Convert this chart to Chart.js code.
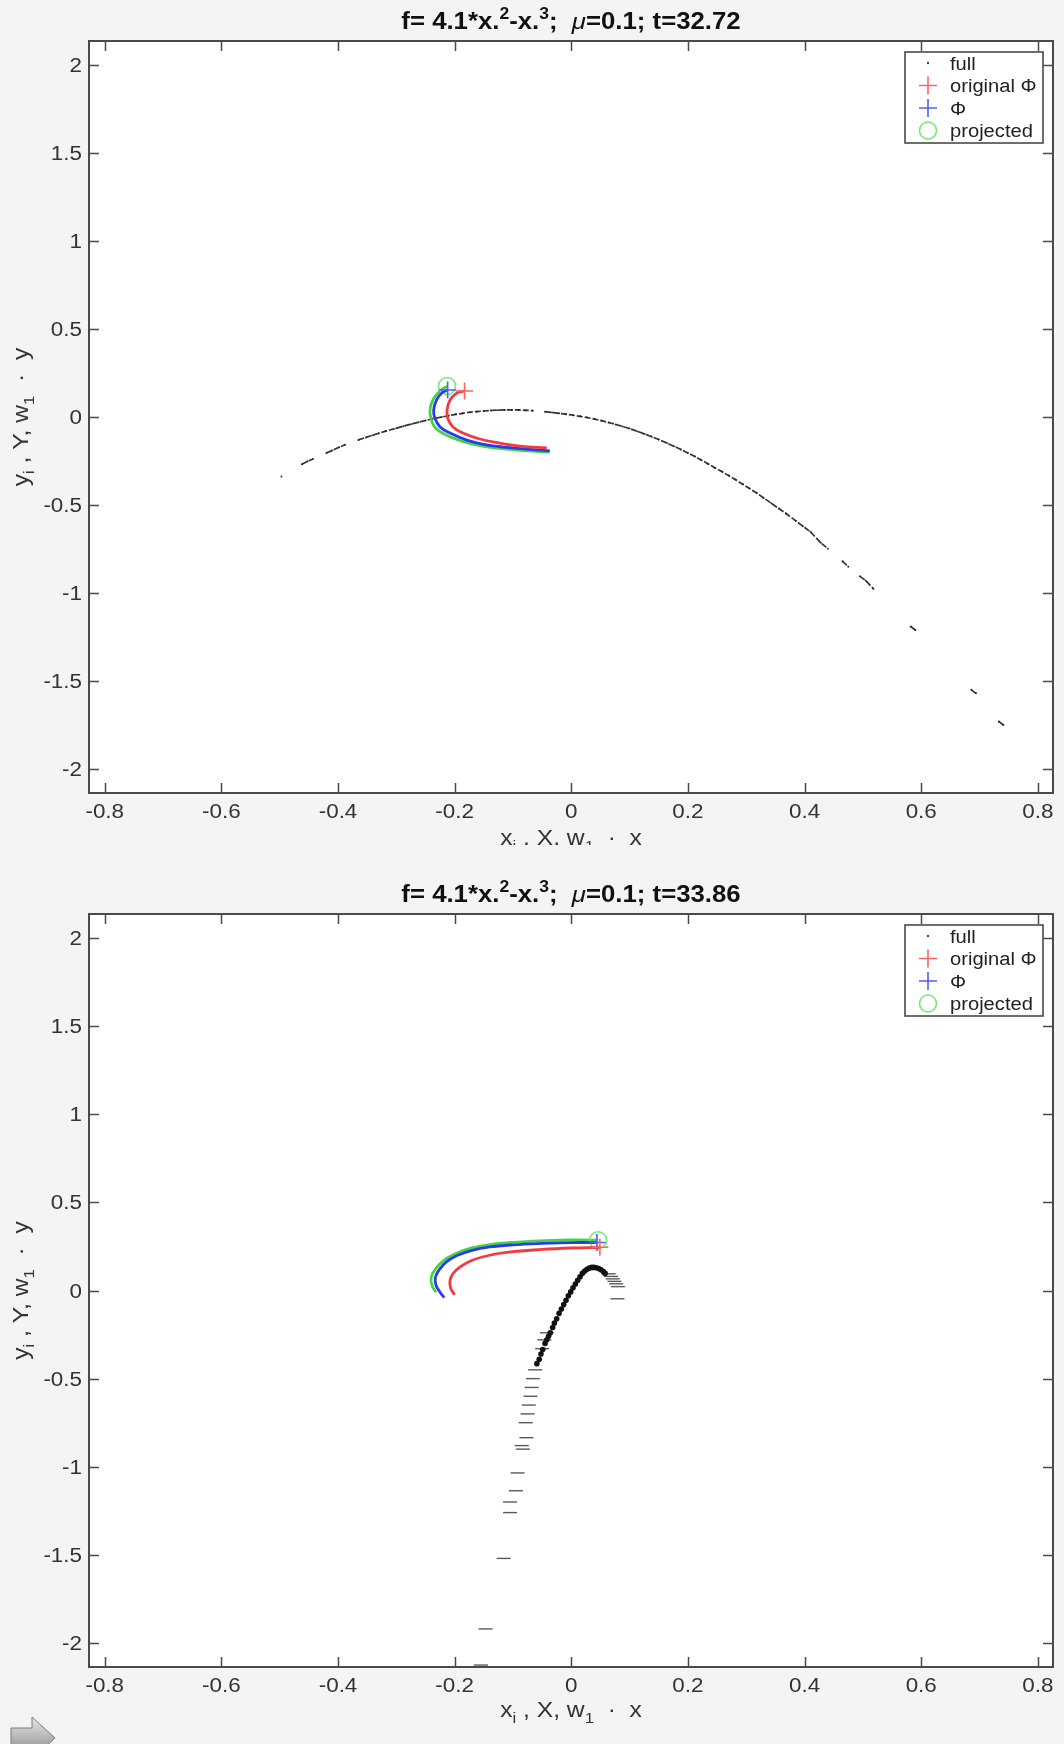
<!DOCTYPE html>
<html lang="en">
<head>
<meta charset="UTF-8">
<title>f = 4.1*x.^2 - x.^3</title>
<script src="https://cdn.jsdelivr.net/npm/chart.js"></script>
<style>
    body { margin: 0; background: #f4f4f4; }
    canvas { display: block; }
</style>
</head>
<body>
<canvas id="chartTop" width="1064" height="845"></canvas>
<canvas id="chartBottom" width="1064" height="899"></canvas>
<script>
// axes
const xTicks = [-0.8, -0.6, -0.4, -0.2, 0, 0.2, 0.4, 0.6, 0.8];
const yTicks = [-2, -1.5, -1, -0.5, 0, 0.5, 1, 1.5, 2];
const legendNames = ['full', 'original Φ', 'Φ', 'projected'];
const times = ['32.72', '33.86'];

// t = 32.72
const fullX1 = [-0.497,-0.462,-0.452,-0.443,-0.420,-0.410,-0.398,-0.388,-0.365,-0.352,-0.340,-0.330,-0.318,-0.300,-0.288,-0.275,-0.262,-0.250,-0.238,-0.222,-0.210,-0.198,-0.186,-0.174,-0.162,-0.150,-0.138,-0.126,-0.114,-0.102,-0.090,-0.078,-0.066,-0.045,-0.033,-0.021,-0.009,0.003,0.015,0.027,0.040,0.052,0.064,0.076,0.088,0.100,0.114,0.126,0.138,0.150,0.164,0.176,0.188,0.200,0.212,0.222,0.234,0.246,0.258,0.270,0.282,0.294,0.305,0.318,0.330,0.343,0.356,0.368,0.385,0.397,0.410,0.428,0.440,0.465,0.475,0.495,0.505,0.518,0.582,0.590,0.686,0.694,0.733,0.741];
const fullY1 = [-0.338,-0.268,-0.252,-0.238,-0.205,-0.190,-0.172,-0.158,-0.130,-0.116,-0.103,-0.092,-0.080,-0.064,-0.052,-0.041,-0.030,-0.020,-0.010,0.000,0.008,0.015,0.021,0.027,0.031,0.034,0.037,0.039,0.040,0.040,0.040,0.038,0.036,0.030,0.026,0.021,0.016,0.010,0.004,-0.003,-0.012,-0.021,-0.031,-0.042,-0.054,-0.066,-0.082,-0.097,-0.112,-0.128,-0.148,-0.166,-0.185,-0.204,-0.225,-0.243,-0.265,-0.288,-0.310,-0.333,-0.357,-0.382,-0.405,-0.432,-0.460,-0.490,-0.520,-0.548,-0.590,-0.620,-0.652,-0.715,-0.748,-0.820,-0.850,-0.905,-0.930,-0.975,-1.190,-1.210,-1.550,-1.570,-1.730,-1.750];
const origX1 = [-0.183,-0.196,-0.208,-0.213,-0.212,-0.203,-0.186,-0.157,-0.123,-0.088,-0.042];
const origY1 = [0.148,0.136,0.097,0.040,-0.006,-0.057,-0.091,-0.125,-0.148,-0.165,-0.176];
const phiX1 = [-0.212,-0.222,-0.231,-0.236,-0.234,-0.225,-0.208,-0.179,-0.145,-0.100,-0.037];
const phiY1 = [0.153,0.136,0.097,0.040,-0.006,-0.057,-0.091,-0.131,-0.159,-0.176,-0.193];
const projX1 = [-0.213,-0.226,-0.236,-0.242,-0.241,-0.234,-0.218,-0.188,-0.152,-0.106,-0.037];
const projY1 = [0.176,0.145,0.105,0.050,-0.003,-0.058,-0.097,-0.137,-0.165,-0.184,-0.200];

// t = 33.86
const arcX2 = [-0.059,-0.055,-0.052,-0.049,-0.045,-0.042,-0.039,-0.036,-0.032,-0.029,-0.025,-0.021,-0.017,-0.013,-0.009,-0.005,-0.001,0.003,0.007,0.011,0.015,0.019,0.023,0.027,0.031,0.035,0.039,0.043,0.047,0.051,0.055,0.058];
const arcY2 = [-0.415,-0.390,-0.360,-0.335,-0.300,-0.280,-0.260,-0.240,-0.210,-0.185,-0.160,-0.130,-0.105,-0.080,-0.055,-0.030,-0.008,0.015,0.037,0.058,0.078,0.097,0.110,0.120,0.127,0.131,0.131,0.129,0.125,0.118,0.108,0.097];
const streakX2 = [0.064,0.068,0.071,0.074,0.077,0.080,0.079,-0.050,-0.046,-0.042,-0.062,-0.066,-0.068,-0.070,-0.073,-0.075,-0.078,-0.077,-0.085,-0.083,-0.092,-0.095,-0.105,-0.105,-0.116,-0.147,-0.155];
const streakY2 = [0.095,0.080,0.066,0.052,0.038,0.022,-0.047,-0.330,-0.280,-0.240,-0.450,-0.500,-0.550,-0.600,-0.650,-0.700,-0.750,-0.835,-0.880,-0.900,-1.035,-1.136,-1.200,-1.260,-1.520,-1.920,-2.125];
const origX2 = [0.049,0.000,-0.050,-0.100,-0.140,-0.170,-0.190,-0.203,-0.208,-0.207,-0.200];
const origY2 = [0.245,0.241,0.233,0.220,0.200,0.172,0.135,0.095,0.055,0.015,-0.025];
const phiX2 = [0.044,0.000,-0.050,-0.100,-0.140,-0.170,-0.195,-0.213,-0.226,-0.233,-0.232,-0.225,-0.218];
const phiY2 = [0.272,0.272,0.267,0.259,0.247,0.228,0.200,0.165,0.120,0.075,0.030,-0.010,-0.040];
const projX2 = [0.046,0.000,-0.050,-0.100,-0.140,-0.172,-0.198,-0.218,-0.232,-0.240,-0.239,-0.232];
const projY2 = [0.285,0.287,0.282,0.273,0.260,0.240,0.210,0.172,0.125,0.078,0.030,-0.010];

const SX = 1.12;   // source text is a bit wide
const FONT = '"Liberation Sans", Arial, sans-serif';
const RED = 'rgb(240,60,60)', BLUE = 'rgb(40,60,235)', GREEN = 'rgb(70,210,70)';
const RED_M = 'rgb(248,100,100)', BLUE_M = 'rgb(80,95,245)', GREEN_M = 'rgb(120,232,120)';
const TRACE = 'rgba(30,30,30,0.9)';

function pts(xs, ys) {
    return xs.map((x, i) => ({ x: x, y: ys[i] }));
}

function curve(xs, ys, color, mColor, mStyle, order) {
    return {
        data: pts(xs, ys),
        showLine: true,
        tension: 0.4,
        borderColor: color,
        borderWidth: 2.8,
        pointStyle: mStyle,
        pointRadius: c => c.dataIndex === 0 ? 8.5 : 0,
        pointBorderColor: mColor,
        pointBackgroundColor: 'rgba(0,0,0,0)',
        pointBorderWidth: 1.6,
        order: order
    };
}

// rich text: segments with sub/superscripts, stretched horizontally
function segFont(s, size, bold) {
    let px = (s.sub || s.sup) ? size * 0.68 : size;
    return (s.it ? 'italic ' : '') + (bold && !s.it ? 'bold ' : '') + px + 'px ' + FONT;
}
function drawRich(ctx, segs, x, y, size, bold, align) {
    let w = 0;
    segs.forEach(s => { ctx.font = segFont(s, size, bold); w += ctx.measureText(s.t).width; });
    ctx.save();
    ctx.translate(x, y);
    ctx.scale(SX, 1);
    ctx.textAlign = 'left';
    ctx.textBaseline = 'alphabetic';
    let cx = align === 'center' ? -w / 2 : (align === 'right' ? -w : 0);
    segs.forEach(s => {
        ctx.font = segFont(s, size, bold);
        let dy = s.sup ? -size * 0.42 : (s.sub ? size * 0.28 : 0);
        ctx.fillText(s.t, cx, dy);
        cx += ctx.measureText(s.t).width;
    });
    ctx.restore();
}

function drawMarker(ctx, kind, x, y, color) {
    ctx.save();
    ctx.strokeStyle = color;
    ctx.fillStyle = color;
    ctx.lineWidth = 1.6;
    ctx.beginPath();
    if (kind === 'cross') {
        ctx.moveTo(x - 9, y); ctx.lineTo(x + 9, y);
        ctx.moveTo(x, y - 9); ctx.lineTo(x, y + 9);
        ctx.stroke();
    } else if (kind === 'circle') {
        ctx.arc(x, y, 8.5, 0, Math.PI * 2);
        ctx.stroke();
    } else {
        ctx.arc(x, y, 1.2, 0, Math.PI * 2);
        ctx.fill();
    }
    ctx.restore();
}

const matlabPlugin = {
    id: 'matlab',
    beforeDraw(chart) {
        const ctx = chart.ctx, a = chart.chartArea;
        ctx.save();
        ctx.fillStyle = '#f4f4f4';
        ctx.fillRect(0, 0, chart.width, chart.height);
        ctx.fillStyle = '#ffffff';
        ctx.fillRect(a.left, a.top, a.right - a.left, a.bottom - a.top);
        ctx.restore();
    },
    afterDatasetsDraw(chart, args, opts) {
        const ctx = chart.ctx, a = chart.chartArea;
        const xs = chart.scales.x, ys = chart.scales.y;
        ctx.save();
        // box and inward ticks
        ctx.strokeStyle = '#4a4a4a';
        ctx.lineWidth = 2;
        ctx.strokeRect(a.left, a.top, a.right - a.left, a.bottom - a.top);
        ctx.lineWidth = 1.5;
        ctx.beginPath();
        xTicks.forEach(v => {
            const px = Math.round(xs.getPixelForValue(v)) + 0.5;
            ctx.moveTo(px, a.bottom); ctx.lineTo(px, a.bottom - 10);
            ctx.moveTo(px, a.top); ctx.lineTo(px, a.top + 10);
        });
        yTicks.forEach(v => {
            const py = Math.round(ys.getPixelForValue(v)) + 0.5;
            ctx.moveTo(a.left, py); ctx.lineTo(a.left + 10, py);
            ctx.moveTo(a.right, py); ctx.lineTo(a.right - 10, py);
        });
        ctx.stroke();

        // tick labels
        ctx.fillStyle = '#333333';
        xTicks.forEach(v => {
            drawRich(ctx, [{ t: String(v) }], xs.getPixelForValue(v), a.bottom + 25, 20, false, 'center');
        });
        yTicks.forEach(v => {
            drawRich(ctx, [{ t: String(v) }], a.left - 7, ys.getPixelForValue(v) + 7, 20, false, 'right');
        });

        // titles
        ctx.fillStyle = '#111111';
        const cx = (a.left + a.right) / 2;
        drawRich(ctx, [
            { t: 'f= 4.1*x.' }, { t: '2', sup: 1 }, { t: '-x.' }, { t: '3', sup: 1 },
            { t: ';  ' }, { t: 'μ', it: 1 }, { t: '=0.1; t=' + opts.time }
        ], cx, a.top - 12, 23, true, 'center');

        ctx.fillStyle = '#333333';
        drawRich(ctx, [
            { t: 'x' }, { t: 'i', sub: 1 }, { t: ' , X, w' }, { t: '1', sub: 1 }, { t: '  ·  x' }
        ], cx, a.bottom + opts.xLabelGap, 22, false, 'center');

        ctx.save();
        ctx.translate(28, (a.top + a.bottom) / 2);
        ctx.rotate(-Math.PI / 2);
        drawRich(ctx, [
            { t: 'y' }, { t: 'i', sub: 1 }, { t: ' , Y, w' }, { t: '1', sub: 1 }, { t: '  ·  y' }
        ], 0, 0, 22, false, 'center');
        ctx.restore();

        // legend
        const lx = a.right - 148, ly = a.top + 11, lw = 138, lh = 91;
        ctx.fillStyle = '#ffffff';
        ctx.fillRect(lx, ly, lw, lh);
        ctx.strokeStyle = '#4a4a4a';
        ctx.lineWidth = 1.6;
        ctx.strokeRect(lx, ly, lw, lh);
        const kinds = ['dot', 'cross', 'cross', 'circle'];
        const cols = ['#444444', RED_M, BLUE_M, GREEN_M];
        legendNames.forEach((name, i) => {
            const ry = ly + 11 + i * 22.5;
            drawMarker(ctx, kinds[i], lx + 23, ry, cols[i]);
            ctx.fillStyle = '#222222';
            drawRich(ctx, [{ t: name }], lx + 45, ry + 6.5, 18, false, 'left');
        });

        // small arrow at the page corner
        if (opts.arrow) {
            const oy = chart.height - 16;
            ctx.beginPath();
            ctx.moveTo(11, oy); ctx.lineTo(32, oy); ctx.lineTo(32, oy - 11);
            ctx.lineTo(55, oy + 10); ctx.lineTo(32, oy + 31); ctx.lineTo(32, oy + 20);
            ctx.lineTo(11, oy + 20); ctx.closePath();
            const g = ctx.createLinearGradient(0, oy - 11, 0, oy + 20);
            g.addColorStop(0, '#e6e6e6');
            g.addColorStop(1, '#9c9c9c');
            ctx.fillStyle = g;
            ctx.fill();
            ctx.strokeStyle = '#7a7a7a';
            ctx.lineWidth = 1;
            ctx.stroke();
        }
        ctx.restore();
    }
};

function buildChart(id, datasets, padding, time, arrow, xLabelGap) {
    return new Chart(document.getElementById(id), {
        type: 'scatter',
        data: { datasets: datasets },
        options: {
            responsive: false,
            animation: false,
            devicePixelRatio: 1,
            layout: { padding: padding },
            scales: {
                x: { type: 'linear', min: -0.827, max: 0.826, display: false },
                y: { type: 'linear', min: -2.136, max: 2.136, display: false }
            },
            plugins: {
                legend: { display: false },
                tooltip: { enabled: false },
                matlab: { time: time, arrow: arrow, xLabelGap: xLabelGap }
            }
        },
        plugins: [matlabPlugin]
    });
}

// top: sampled trajectory drawn as a dashed thin trace
const fullTop = {
    data: pts(fullX1, fullY1),
    showLine: true,
    borderColor: TRACE,
    borderWidth: 1.7,
    borderDash: [6, 2],
    segment: {
        borderColor: c => Math.abs(c.p1.parsed.x - c.p0.parsed.x) > 0.019 ? 'rgba(0,0,0,0)' : TRACE
    },
    pointRadius: 1,
    pointBackgroundColor: TRACE,
    pointBorderWidth: 0,
    order: 5
};

buildChart('chartTop', [
    fullTop,
    curve(projX1, projY1, GREEN, GREEN_M, 'circle', 4),
    curve(phiX1, phiY1, BLUE, BLUE_M, 'cross', 3),
    curve(origX1, origY1, RED, RED_M, 'cross', 2)
], { left: 89, right: 11, top: 41, bottom: 52 }, times[0], false, 52);

buildChart('chartBottom', [
    {
        data: pts(arcX2, arcY2),
        pointRadius: 2.8,
        pointBackgroundColor: '#111111',
        pointBorderWidth: 0,
        order: 6
    },
    {
        data: pts(streakX2, streakY2),
        pointStyle: 'line',
        pointRadius: 7,
        pointBorderColor: 'rgba(20,20,20,0.7)',
        pointBorderWidth: 1.4,
        order: 5
    },
    curve(projX2, projY2, GREEN, GREEN_M, 'circle', 4),
    curve(phiX2, phiY2, BLUE, BLUE_M, 'cross', 3),
    curve(origX2, origY2, RED, RED_M, 'cross', 2)
], { left: 89, right: 11, top: 69, bottom: 77 }, times[1], true, 50);
</script>
</body>
</html>
